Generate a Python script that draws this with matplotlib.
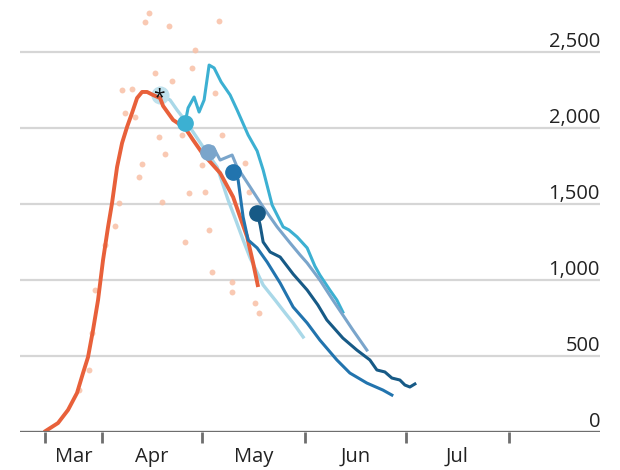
import matplotlib.pyplot as plt

# day numbers counted from 1 March (Apr 1 = 31, May 1 = 61, ...)
daily_days = [24, 27, 28, 29, 32, 35, 36, 37, 40, 38, 41, 42, 43, 44, 45, 47, 48, 49, 50,
              51, 52, 55, 56, 57, 58, 59, 61, 62, 63, 64, 65, 66, 67, 70, 70, 74, 75, 77, 78]
daily_deaths = [276, 408, 651, 934, 1230, 1355, 1507, 2250, 2257, 2099, 2072, 1678, 1763,
                2697, 2757, 2362, 1941, 1513, 1829, 2671, 2309, 1954, 1250, 1572, 2395, 2513,
                1757, 1579, 1329, 1053, 2230, 2704, 1954, 921, 987, 1770, 1579, 849, 783]

avg_days = [13.6, 17.8, 20.8, 23.5, 25.3, 26.8, 28.3, 29.8, 31.3, 32.8, 34.0, 35.5, 37.0,
            38.5, 40.0, 41.5, 43.0, 44.5, 46.3, 48.4, 49.3, 52.3, 55.9, 58.3, 61.0, 66.4,
            70.3, 72.4, 74.5, 76.3, 77.8]
avg_deaths = [0, 59, 145, 257, 388, 493, 671, 868, 1132, 1349, 1507, 1743, 1901,
              2007, 2099, 2197, 2237, 2237, 2217, 2197, 2145, 2053, 2000, 1921, 1836, 1704,
              1546, 1414, 1283, 1112, 954]

proj_a_days = [48.4, 51.4, 53.5, 56.5, 61.3, 65.5, 68.8, 71.0, 73.3, 75.4, 79.3, 81.0,
               82.9, 85.9, 88.3, 91.3]
proj_a_deaths = [2217, 2184, 2118, 2033, 1875, 1743, 1526, 1400, 1263, 1145, 967, 920,
                 868, 783, 717, 625]

proj_b_days = [55.9, 56.8, 58.6, 60.1, 61.6, 63.1, 64.6, 66.7, 69.4, 71.5, 74.8, 77.5,
               79.3, 82.0, 85.3, 87.0, 89.5, 92.5, 94.8, 96.3, 99.3, 101.4, 103.2]
proj_b_deaths = [2033, 2132, 2204, 2105, 2184, 2414, 2395, 2303, 2217, 2118, 1954, 1849,
                 1724, 1493, 1349, 1330, 1283, 1211, 1092, 1033, 934, 868, 789]

proj_c_days = [62.8, 64.3, 66.4, 70.0, 71.5, 75.4, 79.3, 83.5, 87.4, 90.4, 92.5, 96.3,
               100.2, 103.8, 106.2, 108.3, 110.4]
proj_c_deaths = [1842, 1875, 1789, 1822, 1743, 1612, 1480, 1349, 1243, 1164, 1112, 1000,
                 868, 750, 671, 605, 539]

proj_d_days = [70.3, 71.8, 73.3, 74.8, 77.5, 80.5, 84.4, 88.3, 92.5, 96.3, 101.4, 105.3,
               110.4, 115.2, 117.9]
proj_d_deaths = [1711, 1658, 1414, 1263, 1211, 1118, 980, 822, 717, 605, 474, 388,
                 322, 276, 243]

proj_e_days = [77.5, 78.4, 79.3, 81.4, 84.4, 88.3, 92.5, 95.7, 98.4, 103.2, 107.4, 111.3,
               113.4, 115.8, 117.9, 120.3, 121.8, 123.3, 124.8]
proj_e_deaths = [1441, 1362, 1250, 1184, 1151, 1039, 934, 836, 737, 618, 539, 474,
                 408, 395, 355, 342, 309, 296, 316]

month_ticks = [14, 31, 61, 92, 122, 153]
month_labels = ['Mar', 'Apr', 'May', 'Jun', 'Jul']
y_ticks = [0, 500, 1000, 1500, 2000, 2500]


def plot_chart(output_file='out.png'):
    plt.rcParams['font.family'] = ['Open Sans', 'DejaVu Sans']
    fig = plt.figure(figsize=(6.2, 4.7), dpi=100)
    ax = fig.add_axes([20 / 620, 38 / 470, 580 / 620, 432 / 470])

    for v in y_ticks[1:]:
        ax.axhline(v, color='#d6d6d6', lw=1.6, zorder=0)
    for v in y_ticks:
        ax.text(180.3, v + 36, f'{v:,}', ha='right', va='baseline', fontsize=14.5,
                color='#222222')

    ax.scatter(daily_days, daily_deaths, s=18, color='#f8c0a6', alpha=0.85, lw=0, zorder=1)

    ax.plot(proj_a_days, proj_a_deaths, color='#a9d8e8', lw=2.4, zorder=2)
    ax.plot(avg_days, avg_deaths, color='#e8603a', lw=2.8, zorder=3, solid_capstyle='butt')

    series = [(proj_b_days, proj_b_deaths, '#3cb0d2'),
              (proj_c_days, proj_c_deaths, '#7aa5cb'),
              (proj_d_days, proj_d_deaths, '#2274ae'),
              (proj_e_days, proj_e_deaths, '#175a86')]
    for i, (xs, ys, c) in enumerate(series):
        ax.plot(xs, ys, color=c, lw=2.2, zorder=4 + i)
        ax.plot(xs[0], ys[0], 'o', color=c, ms=11, zorder=4 + i)

    # first projection starts at the asterisk
    ax.plot(proj_a_days[0], proj_a_deaths[0], 'o', color='#bfe1ec', ms=12, zorder=2)
    ax.text(proj_a_days[0] - 0.3, proj_a_deaths[0] - 20, '*', ha='center', va='center',
            fontsize=15, color='#111111', zorder=9)

    ax.axhline(0, color='#6e6e6e', lw=2.4, zorder=8)
    ax.set_xticks(month_ticks)
    ax.set_xticklabels([])
    ax.tick_params(axis='x', length=8, width=2, color='#6e6e6e', direction='out')
    mids = [(a + b) / 2 for a, b in zip(month_ticks[:-1], month_ticks[1:])]
    for m, lab in zip(mids, month_labels):
        ax.text(m, -197, lab, ha='center', va='baseline', fontsize=14.5, color='#222222',
                clip_on=False)

    ax.set_yticks([])
    for s in ax.spines.values():
        s.set_visible(False)
    ax.set_xlim(6.4, 180.3)
    ax.set_ylim(0, 2842)

    plt.savefig(output_file, dpi=100)


if __name__ == '__main__':
    plot_chart()
